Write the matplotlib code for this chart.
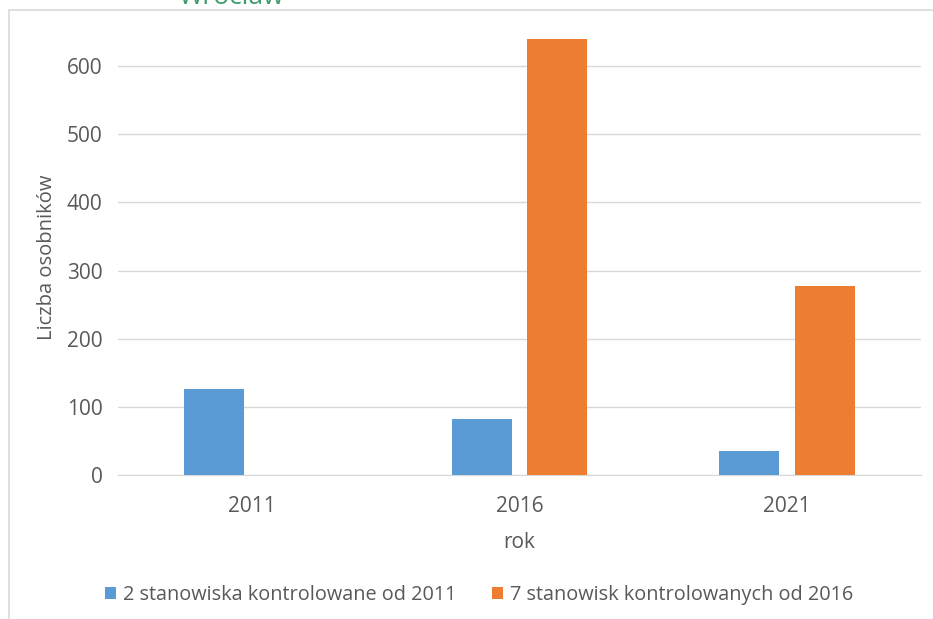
import matplotlib
matplotlib.use("Agg")
import matplotlib.pyplot as plt
from matplotlib.patches import Rectangle
import numpy as np

plt.rcParams["font.family"] = ["Open Sans", "DejaVu Sans"]

years = ["2011", "2016", "2021"]
series_names = ["2 stanowiska kontrolowane od 2011",
                "7 stanowisk kontrolowanych od 2016"]
sites_2011 = [126, 82, 35]
sites_2016 = [0, 640, 277]

BLUE, ORANGE = "#5B9BD5", "#ED7D31"
TEXT = "#595959"
GRID = "#D9D9D9"

W, H = 933, 619
fig = plt.figure(figsize=(W / 100, H / 100), dpi=100)

# chart frame, partly cut by the figure edge
fig.add_artist(Rectangle((8.5 / W, -0.05), 1.1, 1 - 9.5 / H + 0.05,
                         transform=fig.transFigure, fill=False,
                         edgecolor=GRID, linewidth=1.2))
fig.text(231 / W, 1 - 4 / H, "Wrocław", color="#3E9A6B", fontsize=19,
         ha="center", va="baseline")

ax = fig.add_axes([118 / W, (H - 475) / H, (921 - 118) / W, 477 / H])
x = np.arange(len(years))
w, off = 0.224, 0.141
ax.bar(x - off, sites_2011, w, color=BLUE, label=series_names[0], zorder=3)
ax.bar(x + off, sites_2016, w, color=ORANGE, label=series_names[1], zorder=3)

ax.set_xlim(-0.5, 2.5)
ax.set_ylim(0, 700)
ax.set_yticks(range(0, 601, 100))
ax.set_xticks(x)
ax.set_xticklabels(years)
ax.grid(axis="y", color=GRID, linewidth=1, zorder=0)
for s in ax.spines.values():
    s.set_visible(False)
ax.spines["bottom"].set_visible(True)
ax.spines["bottom"].set_color(GRID)
ax.tick_params(length=0, labelsize=15, colors=TEXT)
ax.tick_params(axis="y", pad=11)
ax.tick_params(axis="x", pad=15)
ax.set_xlabel("rok", fontsize=15, color=TEXT, labelpad=11)
ax.set_ylabel("Liczba osobników", fontsize=14.5, color=TEXT)
ax.yaxis.set_label_coords(-0.076, 0.457)

fig.legend(loc="center", bbox_to_anchor=(479 / W, (H - 595) / H), ncol=2,
           frameon=False, fontsize=14.3, labelcolor=TEXT, handlelength=0.55,
           handleheight=0.55, handletextpad=0.35, columnspacing=1.8)

fig.savefig("out.png", dpi=100)
